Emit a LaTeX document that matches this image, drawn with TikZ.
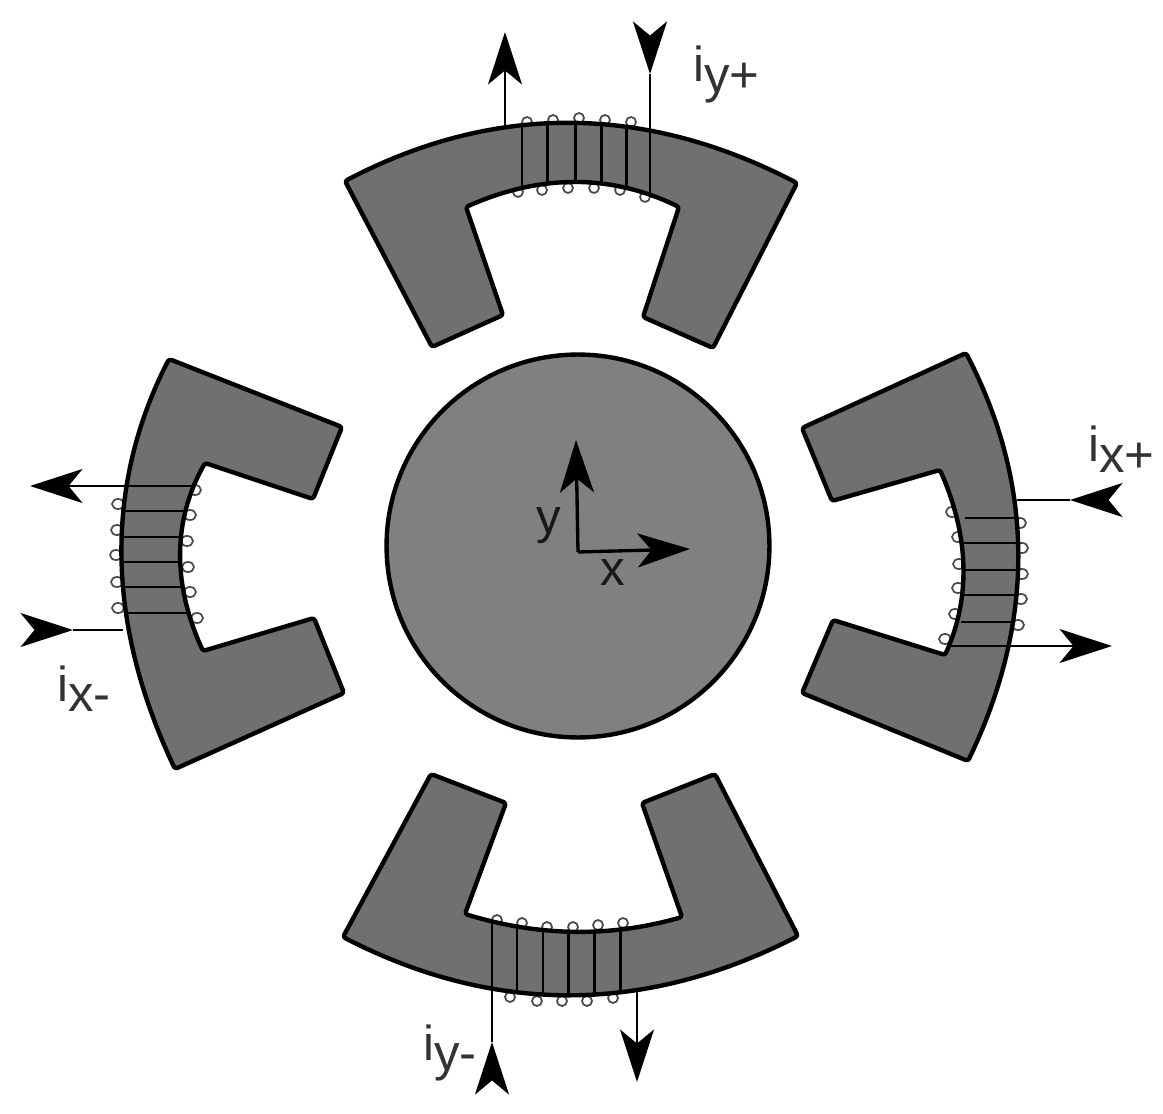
\documentclass[tikz,border=0pt]{standalone}
\usepackage{fontspec}
\setmainfont{Liberation Sans}
\usetikzlibrary{arrows.meta}
\definecolor{polegray}{HTML}{707070}
\definecolor{rotorgray}{HTML}{808080}
\definecolor{loopgray}{HTML}{4A4A4A}
\newcommand{\coillabel}[1]{\fontsize{28}{30}\selectfont i\raisebox{-0.22em}{\fontsize{29}{30}\selectfont #1}}

\begin{document}
\begin{tikzpicture}[x=0.02cm,y=-0.02cm,>={Stealth[length=1.05cm,width=0.68cm,inset=0.28cm]}]
    \tikzstyle{pole} = [draw, fill=polegray, line width=2.5pt, line join=round, rounded corners=1.5pt]
    \tikzstyle{rotor} = [draw, fill=rotorgray, shape=circle, minimum size=7.66cm, inner sep=0pt, line width=2.5pt]
    \tikzstyle{turnloop} = [draw=loopgray, fill=white, line width=1pt]
    \tikzstyle{winding} = [line width=1.7pt]
    \tikzstyle{lead} = [line width=1.4pt]
    \tikzstyle{inhead} = [shorten <=0.3cm]
    \tikzstyle{axis} = [line width=1.9pt]
    \tikzstyle{coillabel} = [anchor=base west, inner sep=0pt, text=black!80]
    \tikzstyle{axislabel} = [inner sep=0pt, text=black!90, font=\fontsize{28}{30}\selectfont]
    \useasboundingbox (0,0) rectangle (1163,1114);

    %Creating Turn Loops
    \foreach \loopx/\loopy in {527/122,553/120,579/118,605/120,631/122,518/192,542/190,568/188,594/188,620/190,645/197}
        \draw[turnloop] (\loopx,\loopy) circle [x radius=5,y radius=5];
    \foreach \loopx/\loopy in {952/512,958/537,959/564,958/588,955/614,945/639,1020/523,1022/548,1022/574,1021/599,1018/625}
        \draw[turnloop] (\loopx,\loopy) circle [x radius=6,y radius=5];
    \foreach \loopx/\loopy in {118/504,117/530,116/555,117/582,118/608,195/490,190/515,187/541,188/567,190/592,197/618}
        \draw[turnloop] (\loopx,\loopy) circle [x radius=6,y radius=5];
    \foreach \loopx/\loopy in {497/920,522/923,547/927,573/927,598/925,623/923,510/997,537/1001,562/1001,587/1001,613/998}
        \draw[turnloop] (\loopx,\loopy) circle [x radius=5,y radius=5];

    %Creating Poles
    \draw[pole] (345,181) .. controls (494,103) and (645,104) .. (797,183) -- (713,348) -- (643,317) -- (679,207)
        .. controls (611,174) and (540,174) .. (466,207) -- (503,315) -- (432,347) -- cycle;
    \draw[pole] (966,353) .. controls (1035,486) and (1035,622) .. (968,761) -- (802,693) -- (833,620) -- (945,655)
        .. controls (971,597) and (969,536) .. (940,470) -- (832,501) -- (802,428) -- cycle;
    \draw[pole] (169,359) .. controls (104,486) and (106,623) .. (175,769) -- (344,693) -- (314,618) -- (203,651)
        .. controls (172,583) and (173,520) .. (205,463) -- (313,499) -- (342,427) -- cycle;
    \draw[pole] (343,937) .. controls (494,1015) and (646,1014) .. (798,936) -- (715,774) -- (642,803) -- (682,917)
        .. controls (609,938) and (537,936) .. (465,914) -- (506,803) -- (431,774) -- cycle;

    %Creating Rotor and Labels
    \node [rotor] (rotor) at (578,546) {};
    \node [coillabel] (label_yp) at (693,82) {\coillabel{y+}};
    \node [coillabel] (label_xp) at (1088,462) {\coillabel{x+}};
    \node [coillabel] (label_xm) at (57,701) {\coillabel{x-}};
    \node [coillabel] (label_ym) at (423,1060) {\coillabel{y-}};
    \node [axislabel] (label_y) at (549,526) {y};
    \node [axislabel] (label_x) at (613,573) {x};

    %Creating Lead Coordinates
    \coordinate (yp_out_start) at (505,126);
    \coordinate (yp_out_end) at (505,32);
    \coordinate (yp_in_back) at (650,22);
    \coordinate (yp_in_tip) at (650,74);
    \coordinate (yp_in_end) at (650,195);
    \coordinate (xp_in_back) at (1122,500);
    \coordinate (xp_in_tip) at (1070,500);
    \coordinate (xp_in_end) at (1017,500);
    \coordinate (xp_out_start) at (947,646);
    \coordinate (xp_out_end) at (1112,646);
    \coordinate (xm_out_start) at (195,486);
    \coordinate (xm_out_end) at (30,486);
    \coordinate (xm_in_back) at (21,630);
    \coordinate (xm_in_tip) at (73,630);
    \coordinate (xm_in_end) at (123,630);
    \coordinate (ym_in_back) at (492,1094);
    \coordinate (ym_in_tip) at (492,1042);
    \coordinate (ym_in_end) at (492,923);
    \coordinate (ym_out_start) at (637,992);
    \coordinate (ym_out_end) at (637,1082);
    \coordinate (origin) at (578,552);
    \coordinate (axis_y) at (576,440);
    \coordinate (axis_x) at (690,549);

    %Conecting Windings
    \begin{scope}[winding]
        \foreach \coilx/\ytop/\ybot in {522/127/186,547/124/184,575/123/182,601/124/183,626/126/186}
            \draw (\coilx,\ytop) -- (\coilx,\ybot);
        \foreach \coily/\xleft/\xright in {518/965/1015,543/964/1016,570/963/1017,595/964/1016,622/961/1014}
            \draw (\xleft,\coily) -- (\xright,\coily);
        \foreach \coily/\xleft/\xright in {511/122/187,537/120/182,562/120/180,587/122/182,613/125/187}
            \draw (\xleft,\coily) -- (\xright,\coily);
        \foreach \coilx/\ytop/\ybot in {517/928/992,543/932/993,568/932/995,594/930/993,620/927/992}
            \draw (\coilx,\ytop) -- (\coilx,\ybot);
    \end{scope}
    %Conecting Leads
    \begin{scope}[lead]
        \draw[->] (yp_out_start) -- (yp_out_end);
        \draw[->,inhead] (yp_in_back) -- (yp_in_tip);
        \draw (yp_in_tip) -- (yp_in_end);
        \draw[->,inhead] (xp_in_back) -- (xp_in_tip);
        \draw (xp_in_tip) -- (xp_in_end);
        \draw[->] (xp_out_start) -- (xp_out_end);
        \draw[->] (xm_out_start) -- (xm_out_end);
        \draw[->,inhead] (xm_in_back) -- (xm_in_tip);
        \draw (xm_in_tip) -- (xm_in_end);
        \draw[->,inhead] (ym_in_back) -- (ym_in_tip);
        \draw (ym_in_tip) -- (ym_in_end);
        \draw[->] (ym_out_start) -- (ym_out_end);
    \end{scope}
    %Conecting Axes
    \begin{scope}[axis]
        \draw[->] (origin) -- (axis_y);
        \draw[->] (origin) -- (axis_x);
    \end{scope}
\end{tikzpicture}
\end{document}
